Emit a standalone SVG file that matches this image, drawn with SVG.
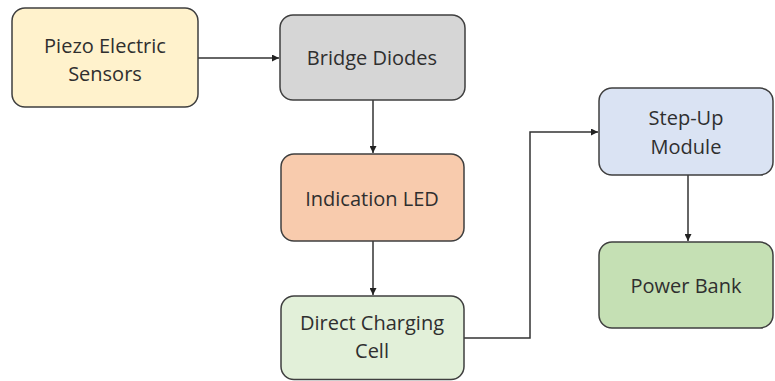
<svg xmlns="http://www.w3.org/2000/svg" width="775" height="381" viewBox="0 0 775 381">
<style>
.box{stroke:#3f3f3f;stroke-width:1.5}
.t{font-family:"Open Sans","Liberation Sans",sans-serif;font-size:20px;fill:#2f2f2f;text-anchor:middle;dominant-baseline:central}
.c{fill:none;stroke:#333;stroke-width:1.5}
</style>
<defs>
<marker id="ah" viewBox="0 0 10 10" refX="10" refY="5" markerWidth="7" markerHeight="7" orient="auto" markerUnits="userSpaceOnUse">
<path d="M0,0 L10,5 L0,10 z" fill="#222"/>
</marker>
</defs>
<rect width="775" height="381" fill="#fff"/>
<g id="connectors">
<path class="c" d="M198,58 H279" marker-end="url(#ah)"/>
<path class="c" d="M373,100 V153" marker-end="url(#ah)"/>
<path class="c" d="M373,241 V295" marker-end="url(#ah)"/>
<path class="c" d="M464,338 H530 V132 H598" marker-end="url(#ah)"/>
<path class="c" d="M688,175 V241" marker-end="url(#ah)"/>
</g>
<g id="piezo">
<rect class="box" x="12" y="8" width="186" height="99" rx="13" fill="#fff2cc"/>
<text class="t" x="105" y="45">Piezo Electric</text>
<text class="t" x="105" y="73">Sensors</text>
</g>
<g id="bridge">
<rect class="box" x="280" y="15" width="185" height="85" rx="13" fill="#d6d6d6"/>
<text class="t" x="372" y="57">Bridge Diodes</text>
</g>
<g id="led">
<rect class="box" x="281" y="154" width="183" height="87" rx="13" fill="#f8cbad"/>
<text class="t" x="372" y="198">Indication LED</text>
</g>
<g id="cell">
<rect class="box" x="281" y="296" width="183" height="83.5" rx="13" fill="#e2f0d9"/>
<text class="t" x="372" y="322">Direct Charging</text>
<text class="t" x="372" y="350">Cell</text>
</g>
<g id="stepup">
<rect class="box" x="599" y="88" width="174" height="87" rx="13" fill="#dae3f3"/>
<text class="t" x="686" y="117">Step-Up</text>
<text class="t" x="686" y="146">Module</text>
</g>
<g id="powerbank">
<rect class="box" x="599" y="242" width="174" height="86" rx="13" fill="#c5e0b4"/>
<text class="t" x="686" y="285">Power Bank</text>
</g>
</svg>
